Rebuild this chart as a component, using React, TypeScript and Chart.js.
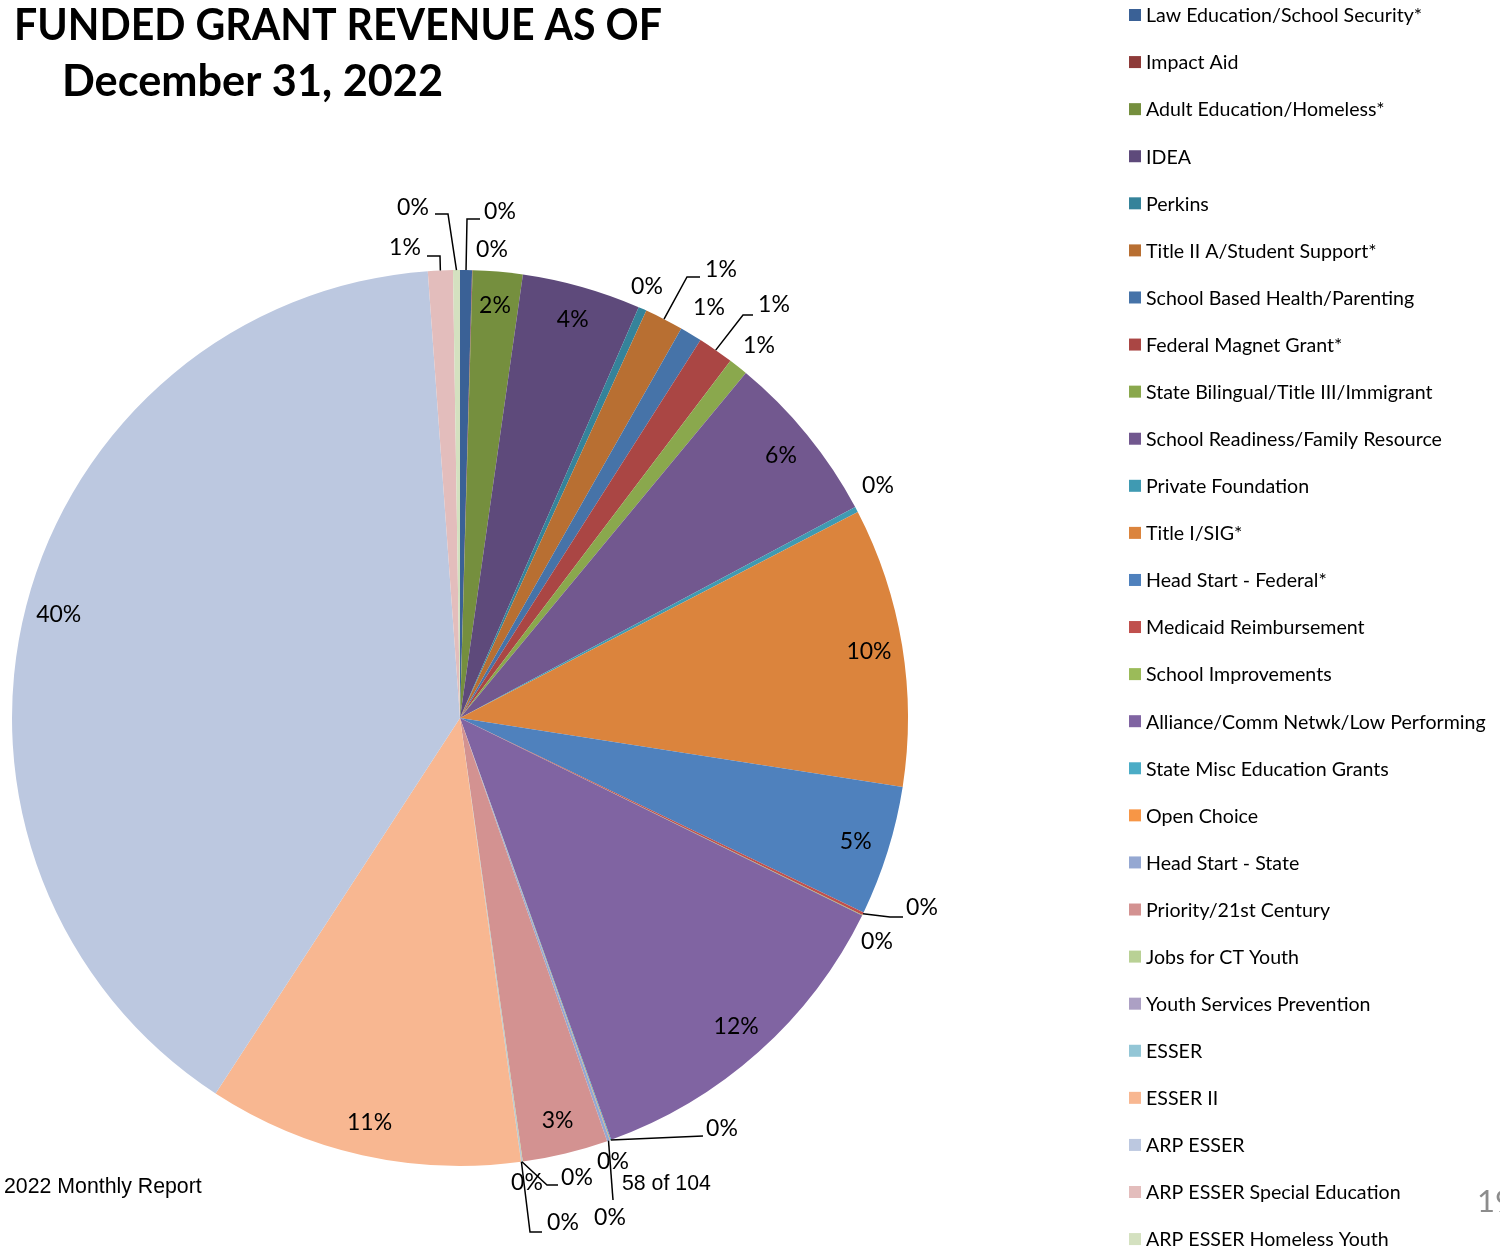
import React, { useEffect, useRef } from 'react';
import { Chart, registerables } from 'chart.js';

Chart.register(...registerables);

// ---- data ----
const categories: string[] = [
  'Law Education/School Security*',
  'Impact Aid',
  'Adult Education/Homeless*',
  'IDEA',
  'Perkins',
  'Title II A/Student Support*',
  'School Based Health/Parenting',
  'Federal Magnet Grant*',
  'State Bilingual/Title III/Immigrant',
  'School Readiness/Family Resource',
  'Private Foundation',
  'Title I/SIG*',
  'Head Start - Federal*',
  'Medicaid Reimbursement',
  'School Improvements',
  'Alliance/Comm Netwk/Low Performing',
  'State Misc Education Grants',
  'Open Choice',
  'Head Start - State',
  'Priority/21st Century',
  'Jobs for CT Youth',
  'Youth Services Prevention',
  'ESSER',
  'ESSER II',
  'ARP ESSER',
  'ARP ESSER Special Education',
  'ARP ESSER Homeless Youth',
];

// share of revenue (percent)
const shares: number[] = [
  0.43, 0.02, 1.8, 4.3, 0.3, 1.4, 0.8, 1.3, 0.7, 6.2, 0.2, 10.1, 4.7, 0.1, 0.02,
  12.3, 0.03, 0.02, 0.1, 3.1, 0.02, 0.02, 0.02, 11.4, 39.8, 0.9, 0.25,
];

const sliceColors: string[] = [
  '#3A6196', '#8E3B39', '#758F3E', '#5E4A7B', '#35839A', '#B86F32', '#4673A8',
  '#AA4644', '#8AA84D', '#72588F', '#3F9AB2', '#DB843D', '#4F81BD', '#C0504D',
  '#9BBB59', '#8064A2', '#4BACC6', '#F79646', '#95A8D2', '#D39291', '#B9D195',
  '#ACA0C4', '#93C6D6', '#F8B791', '#BCC8E0', '#E3BDBC', '#D4E1C0',
];

const titleLines: string[] = ['FUNDED GRANT REVENUE AS OF', 'December 31, 2022'];
const footerLeft = '2022 Monthly Report';
const footerPage = '58 of 104';
const slideNumber = '19';

// ---- label layout (positions relative to the pie centre, in px at radius 448) ----
type LabelLayout = null | { at: [number, number]; leader?: [number, number][] };
const REF_R = 448;
const LABEL_LAYOUT: LabelLayout[] = [
  { at: [40, -506], leader: [[7, -499], [20, -499]] },
  { at: [32, -468] },
  null,
  null,
  { at: [187, -431] },
  { at: [261, -448], leader: [[227, -441], [240, -441]] },
  { at: [249, -410] },
  { at: [314, -413], leader: [[283, -403], [293, -403]] },
  { at: [299, -372] },
  null,
  { at: [418, -232] },
  null,
  null,
  { at: [462, 190], leader: [[430, 199], [443, 199]] },
  { at: [417, 224] },
  null,
  { at: [262, 411], leader: [[243, 418]] },
  { at: [153, 444] },
  { at: [150, 500], leader: [[153, 482]] },
  null,
  { at: [67, 465] },
  { at: [117, 460], leader: [[87, 467], [98, 467]] },
  { at: [103, 505], leader: [[70, 514], [82, 514]] },
  null,
  null,
  { at: [-55, -470], leader: [[-20, -462], [-33, -462]] },
  { at: [-47, -510], leader: [[-12, -504], [-25, -504]] },
];

const pieLabelPlugin = {
  id: 'pieLabels',
  afterDatasetsDraw(chart: any) {
    const ctx = chart.ctx as CanvasRenderingContext2D;
    const meta = chart.getDatasetMeta(0);
    const data = chart.data.datasets[0].data as number[];
    const total = data.reduce((a, b) => a + b, 0);
    ctx.save();
    ctx.font = '23px Lato';
    ctx.fillStyle = '#000';
    ctx.strokeStyle = '#000';
    ctx.lineWidth = 1.5;
    ctx.textAlign = 'center';
    ctx.textBaseline = 'middle';
    meta.data.forEach((arc: any, i: number) => {
      const { x, y, startAngle, endAngle, outerRadius } = arc.getProps(
        ['x', 'y', 'startAngle', 'endAngle', 'outerRadius'],
        true
      );
      const mid = (startAngle + endAngle) / 2;
      const k = outerRadius / REF_R;
      const layout = LABEL_LAYOUT[i];
      const text = Math.round((data[i] / total) * 100) + '%';
      let lx: number;
      let ly: number;
      if (!layout) {
        lx = x + Math.cos(mid) * outerRadius * 0.925;
        ly = y + Math.sin(mid) * outerRadius * 0.925;
      } else {
        lx = x + layout.at[0] * k;
        ly = y + layout.at[1] * k;
        if (layout.leader) {
          ctx.beginPath();
          ctx.moveTo(x + Math.cos(mid) * outerRadius, y + Math.sin(mid) * outerRadius);
          layout.leader.forEach(([px, py]) => ctx.lineTo(x + px * k, y + py * k));
          ctx.stroke();
        }
      }
      ctx.fillText(text, lx, ly);
    });
    ctx.restore();
  },
};

const legendPlugin = {
  id: 'sideLegend',
  afterDraw(chart: any) {
    const ctx = chart.ctx as CanvasRenderingContext2D;
    const labels = chart.data.labels as string[];
    const colors = chart.data.datasets[0].backgroundColor as string[];
    const x0 = 1129;
    const y0 = 15;
    const step = 47.08;
    ctx.save();
    ctx.font = '19.6px Lato';
    ctx.fillStyle = '#000';
    ctx.textAlign = 'left';
    ctx.textBaseline = 'middle';
    labels.forEach((lab, i) => {
      const cy = y0 + i * step;
      ctx.fillStyle = colors[i];
      ctx.fillRect(x0, cy - 6, 12, 12);
      ctx.fillStyle = '#000';
      ctx.fillText(lab, x0 + 17, cy + 1);
    });
    ctx.restore();
  },
};

const textPlugin = {
  id: 'slideText',
  afterDraw(chart: any) {
    const ctx = chart.ctx as CanvasRenderingContext2D;
    ctx.save();
    ctx.fillStyle = '#000';
    ctx.textBaseline = 'alphabetic';
    ctx.textAlign = 'left';
    ctx.font = 'bold 44px Lato';
    ctx.fillText(titleLines[0], 14, 40, 648);
    ctx.fillText(titleLines[1], 62, 96, 381);
    ctx.font = '21.3px "Liberation Sans"';
    ctx.textBaseline = 'middle';
    ctx.fillText(footerLeft, 4, 1187);
    ctx.fillText(footerPage, 622, 1184);
    ctx.fillStyle = '#8c8c8c';
    ctx.font = '31px Lato';
    ctx.fillText(slideNumber, 1477, 1202);
    ctx.restore();
  },
};

export default function App() {
  const canvasRef = useRef<HTMLCanvasElement | null>(null);

  useEffect(() => {
    if (!canvasRef.current) return;
    const chart = new Chart(canvasRef.current, {
      type: 'pie',
      data: {
        labels: categories,
        datasets: [
          {
            data: shares,
            backgroundColor: sliceColors,
            borderWidth: 0,
          },
        ],
      },
      options: {
        responsive: false,
        animation: false,
        devicePixelRatio: 1,
        layout: { padding: { left: 12, right: 592, top: 270, bottom: 83 } },
        plugins: {
          legend: { display: false },
          title: { display: false },
          tooltip: { enabled: false },
        },
      },
      plugins: [pieLabelPlugin, legendPlugin, textPlugin],
    });
    return () => chart.destroy();
  }, []);

  return (
    <div style={{ position: 'absolute', left: 0, top: 0, width: 1500, height: 1249, background: '#fff' }}>
      <canvas ref={canvasRef} width={1500} height={1249} style={{ display: 'block' }} />
    </div>
  );
}
